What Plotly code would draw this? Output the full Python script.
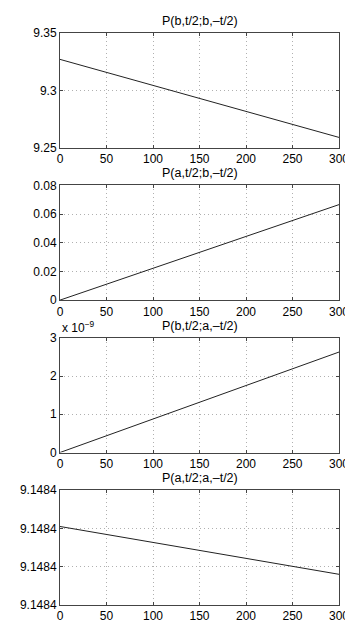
import plotly.graph_objects as go

t = [0, 150, 300]

titles = ["P(b,t/2;b,\u2013t/2)", "P(a,t/2;b,\u2013t/2)",
          "P(b,t/2;a,\u2013t/2)", "P(a,t/2;a,\u2013t/2)"]

p_bb = [9.3270, 9.2930, 9.2590]
p_ab = [0.0, 0.0333, 0.0666]
p_ba = [0.0, 1.313e-9, 2.627e-9]
p_aa = [9.14843705, 9.14843643, 9.14843580]

x_ticks = [0, 50, 100, 150, 200, 250, 300]

y1_ticks = [9.25, 9.30, 9.35]
y1_text = ["9.25", "9.3", "9.35"]
y2_ticks = [0, 0.02, 0.04, 0.06, 0.08]
y2_text = ["0", "0.02", "0.04", "0.06", "0.08"]
y3_ticks = [0, 1e-9, 2e-9, 3e-9]
y3_text = ["0", "1", "2", "3"]
y4_ticks = [9.1484350, 9.1484360, 9.1484370, 9.1484380]
y4_text = ["9.1484", "9.1484", "9.1484", "9.1484"]

series = [p_bb, p_ab, p_ba, p_aa]
yticks = [(y1_ticks, y1_text), (y2_ticks, y2_text), (y3_ticks, y3_text), (y4_ticks, y4_text)]

font = dict(family="Liberation Sans, Arial, Helvetica, sans-serif", size=12, color="black")

W, H = 353, 627
L, R, T, B = 41.6, 13.7, 24.5, 17.7
plot_h = H - T - B
sub_h = 117.3
step = 155.8

fig = go.Figure()
annotations = []
layout = {}
for i in range(4):
    top_px = i * step
    d_top = 1 - top_px / plot_h
    d_bot = 1 - (top_px + sub_h) / plot_h
    xa = "xaxis" if i == 0 else f"xaxis{i+1}"
    ya = "yaxis" if i == 0 else f"yaxis{i+1}"
    xr = "x" if i == 0 else f"x{i+1}"
    yr = "y" if i == 0 else f"y{i+1}"
    fig.add_trace(go.Scatter(x=t, y=series[i], mode="lines",
                             line=dict(color="#222222", width=1),
                             xaxis=xr, yaxis=yr, showlegend=False,
                             hoverinfo="skip"))
    common = dict(showline=True, linecolor="#444444", linewidth=1, mirror="ticks",
                  ticks="inside", ticklen=3, tickcolor="#444444",
                  showgrid=True, gridcolor="#b0b0b0", griddash="1px,3px", gridwidth=1,
                  zeroline=False, tickfont=font)
    layout[xa] = dict(domain=[0, 1], anchor=yr, range=[0, 300],
                      tickvals=x_ticks, ticktext=[str(v) for v in x_ticks], **common)
    tv, tt = yticks[i]
    layout[ya] = dict(domain=[d_bot, d_top], anchor=xr, range=[tv[0], tv[-1]],
                      tickvals=tv, ticktext=tt, **common)
    annotations.append(dict(text=titles[i], x=0.5, y=d_top, xref="paper", yref="paper",
                            xanchor="center", yanchor="bottom", yshift=3,
                            showarrow=False, font=dict(font, size=12.5)))
    if i == 2:
        annotations.append(dict(text="x 10<sup>\u22129</sup>", x=0, y=d_top,
                                xref="paper", yref="paper", xanchor="left",
                                yanchor="bottom", xshift=0, yshift=1,
                                showarrow=False, font=font))

fig.update_layout(width=W, height=H, margin=dict(l=L, r=R, t=T, b=B, pad=0),
                  paper_bgcolor="white", plot_bgcolor="white", font=font,
                  annotations=annotations, **layout)

fig.write_html("out.html")
